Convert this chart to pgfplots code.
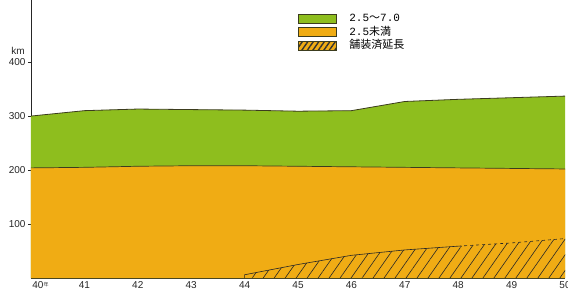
\documentclass[border=0pt]{standalone}
\usepackage{fontspec}
\setmainfont{Liberation Sans}
\setmonofont{Liberation Mono}
\newfontfamily\cjk{Noto Sans CJK JP}
\usepackage{pgfplots}
\pgfplotsset{compat=1.18}
\usetikzlibrary{patterns.meta}
\definecolor{grn}{RGB}{142,190,30}
\definecolor{org}{RGB}{240,172,20}
\definecolor{edge}{RGB}{60,60,30}
\begin{document}
\begin{tikzpicture}
\begin{axis}[
  scale only axis, width=534pt, height=278pt,
  xmin=40, xmax=50, ymin=0, ymax=515,
  axis x line*=bottom, axis y line*=left,
  axis line style={-, line width=0.8pt, black!85},
  xtick={40,41,42,43,44,45,46,47,48,49,50},
  xticklabels={{\hspace*{19pt}40\raisebox{2pt}{\cjk\fontsize{5}{5}\selectfont 年}},41,42,43,44,45,46,47,48,49,50},
  ytick={100,200,300,400},
  tick align=outside, major tick length=3pt,
  tick style={black!85, line width=0.5pt},
  xtick style={draw=none},
  /pgf/number format/assume math mode=true,
  ticklabel style={font=\fontsize{10}{12}\selectfont, black!85},
  xticklabel style={yshift=3pt},
  yticklabel style={xshift=1pt},
  clip=false,
  legend style={at={(axis cs:44.93,497)}, anchor=north west, draw=none, fill=none,
    font=\fontsize{11}{13}\selectfont, row sep=0pt,
    nodes={inner sep=1pt, text height=9pt, text depth=2.5pt}},
  legend cell align=left,
]
\addlegendimage{legend image code/.code={\path (50pt,0pt); \draw[edge, line width=0.4pt, fill=grn] (0pt,-4.5pt) rectangle (38pt,4.5pt);}}
\addlegendentry{\ttfamily 2.5{\cjk 〜}7.0}
\addlegendimage{legend image code/.code={\path (50pt,0pt); \draw[edge, line width=0.4pt, fill=org] (0pt,-4.5pt) rectangle (38pt,4.5pt);}}
\addlegendentry{{\ttfamily 2.5}{\cjk 未満}}
\addlegendimage{legend image code/.code={\path (50pt,0pt); \fill[org] (0pt,-4.5pt) rectangle (38pt,4.5pt);
  \fill[pattern={Lines[angle=55,distance=4.5pt,line width=1.4pt]}, pattern color=black!80] (0pt,-4.5pt) rectangle (38pt,4.5pt);
  \draw[edge, line width=0.4pt] (0pt,-4.5pt) rectangle (38pt,4.5pt);}}
\addlegendentry{{\cjk 舗装済延長}}

% total (green top)
\addplot[fill=grn, draw=none, forget plot] coordinates {
 (40,300) (41,310) (42,313) (43,312) (44,311) (45,309) (46,310) (47,327) (48,331) (49,334) (50,337)} \closedcycle;
% under 2.5 (orange top)
\addplot[fill=org, draw=none, forget plot] coordinates {
 (40,204) (41,205) (42,207) (43,208) (44,208) (45,207) (46,206) (47,205) (48,204) (49,203) (50,202)} \closedcycle;
% paved length (hatched)
\addplot[pattern={Lines[angle=55,distance=9pt,line width=0.6pt]}, pattern color=black!85, draw=none, forget plot] coordinates {
 (44,6) (45,25) (46,42) (47,52) (48,59) (49,65) (50,73)} \closedcycle;
% boundary lines
\addplot[edge, line width=0.8pt, forget plot] coordinates {
 (40,300) (41,310) (42,313) (43,312) (44,311) (45,309) (46,310) (47,327) (48,331) (49,334) (50,337)};
\addplot[edge, line width=0.7pt, forget plot] coordinates {
 (40,204) (41,205) (42,207) (43,208) (44,208) (45,207) (46,206) (47,205) (48,204) (49,203) (50,202)};
\addplot[black!85, line width=0.6pt, forget plot] coordinates {
 (44,0) (44,6) (45,25) (46,42) (47,52) (48,59)};
\addplot[black!85, line width=0.6pt, dashed, forget plot] coordinates {
 (48,59) (49,65) (50,73)};
\node[font=\fontsize{10}{11}\selectfont, black!85] at ([xshift=-13pt]axis cs:40,421) {km};
\end{axis}
\pgfresetboundingbox
\path ([shift={(-31pt,-15pt)}]current axis.south west) rectangle ([shift={(3pt,0pt)}]current axis.north east);
\end{tikzpicture}
\end{document}
